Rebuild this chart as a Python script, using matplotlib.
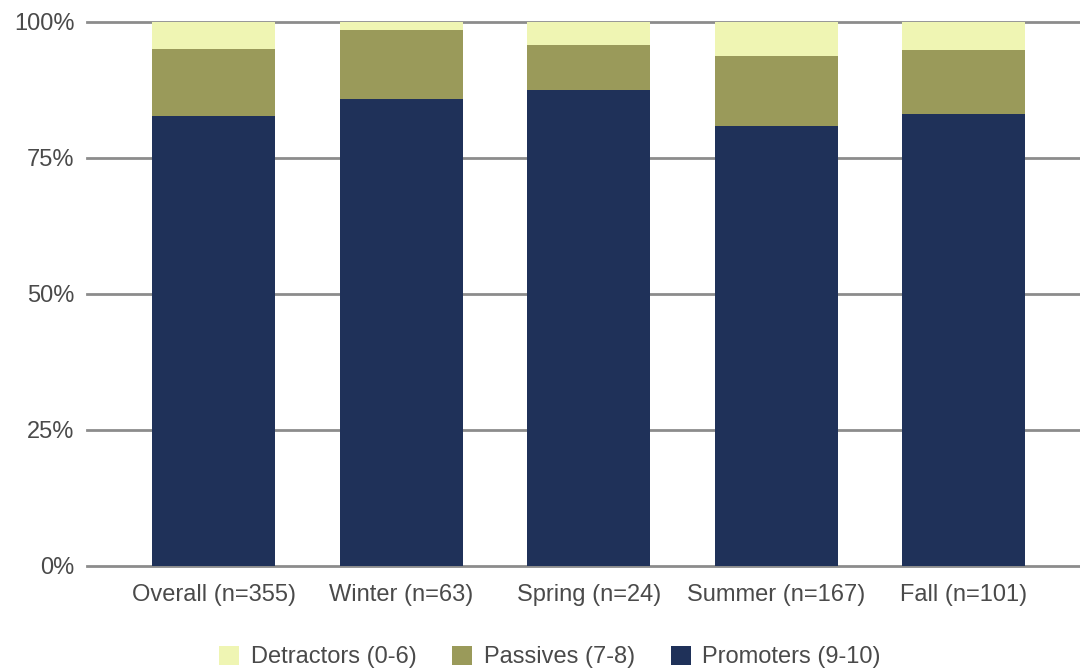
"""NPS breakdown by season: stacked 100% bars."""
import matplotlib
matplotlib.use("Agg")
import matplotlib.pyplot as plt
import numpy as np
from matplotlib.ticker import FixedLocator

plt.rcParams["font.family"] = ["Liberation Sans", "DejaVu Sans"]

categories = ["Overall (n=355)", "Winter (n=63)", "Spring (n=24)", "Summer (n=167)", "Fall (n=101)"]
promoters = [82.8, 85.8, 87.5, 80.8, 83.1]
passives = [12.3, 12.7, 8.3, 13.0, 11.7]
detractors = [4.9, 1.5, 4.2, 6.2, 5.2]
y_ticks = [0, 25, 50, 75, 100]

COLORS = {
    "Detractors (0-6)": "#eff5b3",
    "Passives (7-8)": "#9a9a5a",
    "Promoters (9-10)": "#1f3159",
}
TEXT = "#4a4a4a"
GRID = "#8c8c8c"

fig = plt.figure(figsize=(10.8, 6.68), dpi=100)
ax = fig.add_axes([87 / 1080, 102 / 668, 1 - 87 / 1080, 544 / 668])

x = np.arange(len(categories))
w = 0.656
prom = np.array(promoters)
pas = np.array(passives)
det = np.array(detractors)
b1 = ax.bar(x, prom, w, color=COLORS["Promoters (9-10)"], zorder=3)
b2 = ax.bar(x, pas, w, bottom=prom, color=COLORS["Passives (7-8)"], zorder=3)
b3 = ax.bar(x, det, w, bottom=prom + pas, color=COLORS["Detractors (0-6)"], zorder=3)

# gridlines drawn unclipped so the 0% and 100% lines keep full width
for v in y_ticks:
    ax.axhline(v, color=GRID, linewidth=2, zorder=1, clip_on=False)

ax.set_xlim(-0.675, 4.62)
ax.set_ylim(0, 100)
ax.yaxis.set_major_locator(FixedLocator(y_ticks))
ax.set_yticklabels([f"{v}%" for v in y_ticks])
ax.set_xticks(x)
ax.set_xticklabels(categories)
ax.tick_params(axis="both", length=0, labelsize=17, colors=TEXT)
ax.tick_params(axis="y", pad=9)
ax.tick_params(axis="x", pad=13)
for s in ax.spines.values():
    s.set_visible(False)

fig.legend([b3, b2, b1], list(COLORS.keys()), loc="center", bbox_to_anchor=(550 / 1080, 11 / 668),
           ncol=3, frameon=False, fontsize=17, labelcolor=TEXT, handlelength=0.85, handleheight=0.85,
           columnspacing=1.5, handletextpad=0.5, borderpad=0)

fig.savefig("out.png", dpi=100)
